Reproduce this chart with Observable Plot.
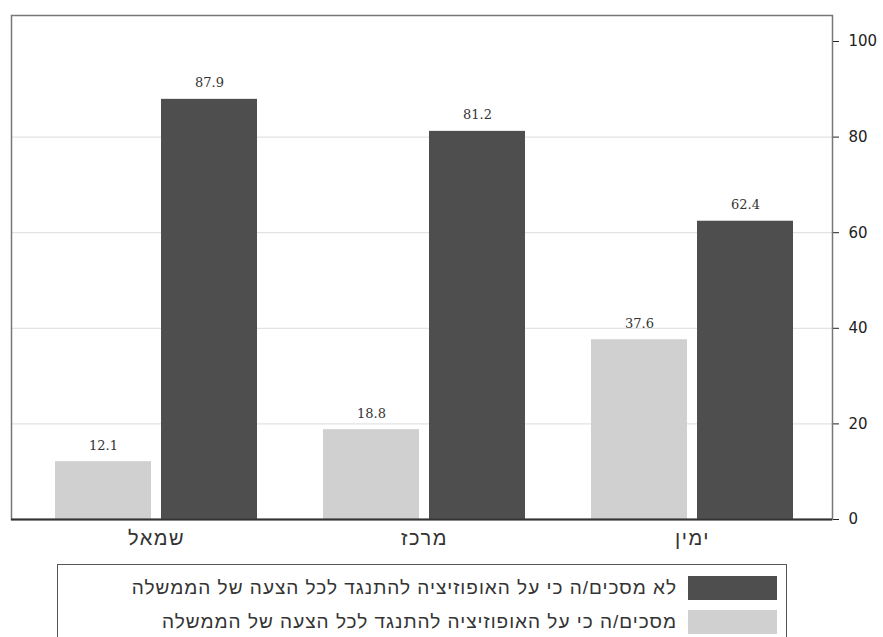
<!DOCTYPE html>
<html>
<head>
<meta charset="utf-8">
<script src="https://cdn.jsdelivr.net/npm/d3@7"></script>
<script src="https://cdn.jsdelivr.net/npm/@observablehq/plot@0.6"></script>
<style>
  html, body { margin: 0; padding: 0; background: #fff; }
  #wrap { position: relative; width: 883px; height: 637px; overflow: hidden; }
  #legend {
    position: absolute; left: 57px; top: 564px; width: 730px; height: 90px;
    border: 1.5px solid #555; box-sizing: border-box; background: #fff;
    font-family: "Liberation Sans", Arial, sans-serif; font-size: 19px; color: #333;
    letter-spacing: 1px;
  }
  .row { position: absolute; right: 9px; height: 24px; display: flex; align-items: center; direction: rtl; }
  .sw { width: 89px; height: 24px; margin-left: 11px; flex: none; }
  .lbl { white-space: nowrap; line-height: 24px; }
</style>
</head>
<body>
<div id="wrap"><div id="chart"></div><div id="legend"></div></div>
<script>
const categories = ["שמאל", "מרכז", "ימין"];
const agree = [12.1, 18.8, 37.6];
const disagree = [87.9, 81.2, 62.4];
const seriesNames = [
  "מסכים/ה כי על האופוזיציה להתנגד לכל הצעה של הממשלה",
  "לא מסכים/ה כי על האופוזיציה להתנגד לכל הצעה של הממשלה"
];
const yTicks = [0, 20, 40, 60, 80, 100];
const gridTicks = [20, 40, 60, 80];

const seriesColors = ["#d0d0d0", "#4e4e4e"];

const agreeData = categories.map((c, i) => ({category: c, series: seriesNames[0], value: agree[i]}));
const disagreeData = categories.map((c, i) => ({category: c, series: seriesNames[1], value: disagree[i]}));

const half = 134; // half of the band width
const chart = Plot.plot({
  width: 883,
  height: 560,
  marginLeft: 11,
  marginRight: 51,
  marginTop: 15,
  marginBottom: 41,
  style: {background: "transparent", color: "#222"},
  x: {
    domain: categories, paddingInner: 0, paddingOuter: 0.0317, align: 0.62, label: null,
    tickSize: 0, tickPadding: 11,
    tickFormat: d => d
  },
  y: {
    domain: [0, 105.44], axis: "right", ticks: yTicks, label: null,
    tickSize: 6, tickPadding: 10, line: true
  },
  color: {domain: seriesNames, range: seriesColors},
  marks: [
    Plot.ruleY(gridTicks, {stroke: "#dcdcdc", strokeWidth: 1}),
    Plot.barY(agreeData, {x: "category", y: "value", fill: "series", insetLeft: half - 101, insetRight: half + 5}),
    Plot.barY(disagreeData, {x: "category", y: "value", fill: "series", insetLeft: half + 5, insetRight: half - 101}),
    Plot.text(agreeData, {x: "category", y: "value", text: d => d.value.toFixed(1), dx: -53, dy: -12, lineAnchor: "bottom",
      fontFamily: "DejaVu Serif", fontSize: 13, fill: "#333"}),
    Plot.text(disagreeData, {x: "category", y: "value", text: d => d.value.toFixed(1), dx: 53, dy: -12, lineAnchor: "bottom",
      fontFamily: "DejaVu Serif", fontSize: 13, fill: "#333"}),
    Plot.frame({stroke: "#777", strokeWidth: 1.5}),
    Plot.ruleY([0], {stroke: "#333", strokeWidth: 2})
  ]
});

// style axis texts
chart.querySelectorAll('g[aria-label="y-axis tick label"] text, g[aria-label="y-axis"] text').forEach(t => {
  t.setAttribute("font-family", "DejaVu Sans"); t.setAttribute("font-size", "15");
});
chart.querySelectorAll('g[aria-label="x-axis tick label"] text, g[aria-label="x-axis"] text').forEach(t => {
  t.setAttribute("font-family", "Liberation Sans, Arial"); t.setAttribute("font-size", "20");
  t.setAttribute("letter-spacing", "1.5"); t.setAttribute("fill", "#333");
});
document.getElementById("chart").appendChild(chart);

// legend (dark first, as in the reference)
const legend = document.getElementById("legend");
[1, 0].forEach((si, k) => {
  const row = document.createElement("div");
  row.className = "row";
  row.style.top = (k === 0 ? 11 : 45) + "px";
  const sw = document.createElement("div");
  sw.className = "sw"; sw.style.background = seriesColors[si];
  const lbl = document.createElement("span");
  lbl.className = "lbl"; lbl.textContent = seriesNames[si];
  row.appendChild(sw); row.appendChild(lbl);
  legend.appendChild(row);
});
</script>
</body>
</html>
